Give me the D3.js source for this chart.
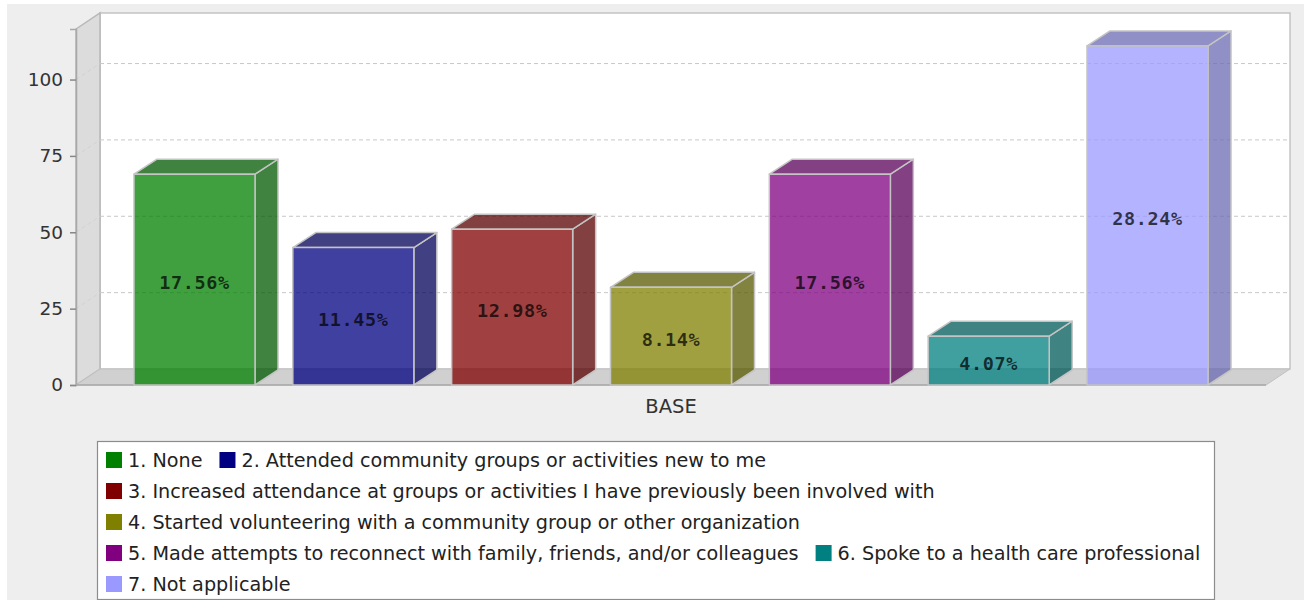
<!DOCTYPE html>
<html>
<head>
<meta charset="utf-8">
<script src="https://cdn.jsdelivr.net/npm/d3@7"></script>
<style>
  body { margin: 0; background: #ffffff; }
  svg { display: block; font-family: "DejaVu Sans", sans-serif; }
</style>
</head>
<body>
<svg id="chart" width="1304" height="600"></svg>
<script>
// ---- data ----
const categories = ["BASE"];
const seriesNames = [
  "1. None",
  "2. Attended community groups or activities new to me",
  "3. Increased attendance at groups or activities I have previously been involved with",
  "4. Started volunteering with a community group or other organization",
  "5. Made attempts to reconnect with family, friends, and/or colleagues",
  "6. Spoke to a health care professional",
  "7. Not applicable"
];
const seriesCounts = [69, 45, 51, 32, 69, 16, 111];
const seriesColors = ["#008000", "#000080", "#800000", "#808000", "#800080", "#008080", "#9999ff"];
const yTicks = [0, 25, 50, 75, 100];

// ---- layout ----
const svg = d3.select("#chart");
const plot = { left: 76, right: 1266, top: 29, bottom: 385 };
const wallDepth = { dx: 24, dy: 16 };
const barDepth = { dx: 23, dy: 15 };
const total = d3.sum(seriesCounts);
const pct = d3.format(".2%");

const y = d3.scaleLinear()
  .domain([0, d3.max(seriesCounts) * 1.05])
  .range([plot.bottom, plot.top]);

const x = d3.scaleBand()
  .domain(d3.range(seriesCounts.length))
  .range([plot.left, plot.right])
  .paddingInner(0.238)
  .paddingOuter(0.365);

// chart background
svg.append("rect").attr("x", 7).attr("y", 4).attr("width", 1304).attr("height", 600).attr("fill", "#eeeeee");

// walls and floor
const bx0 = plot.left + wallDepth.dx, bx1 = plot.right + wallDepth.dx;
const by0 = plot.top - wallDepth.dy, by1 = plot.bottom - wallDepth.dy;

svg.append("rect")
  .attr("x", bx0).attr("y", by0).attr("width", bx1 - bx0).attr("height", by1 - by0)
  .attr("fill", "#ffffff").attr("stroke", "#c4c4c4").attr("stroke-width", 1.5);

svg.append("path")
  .attr("d", `M${plot.left},${plot.top}L${bx0},${by0}L${bx0},${by1}L${plot.left},${plot.bottom}Z`)
  .attr("fill", "#dcdcdc").attr("stroke", "#b8b8b8").attr("stroke-width", 1.5);

svg.append("path")
  .attr("d", `M${plot.left},${plot.bottom}L${bx0},${by1}L${bx1},${by1}L${plot.right},${plot.bottom}Z`)
  .attr("fill", "#d0d0d0").attr("stroke", "#c0c0c0").attr("stroke-width", 1);

// gridlines on the back wall and across the side wall
const grid = svg.append("g").attr("stroke", "#c8c8c8").attr("stroke-width", 1).attr("stroke-dasharray", "4,3");
yTicks.filter(t => t > 0).forEach(t => {
  const yy = y(t);
  grid.append("line").attr("x1", bx0).attr("x2", bx1 - 2).attr("y1", yy - wallDepth.dy).attr("y2", yy - wallDepth.dy);
  grid.append("line").attr("x1", plot.left).attr("x2", bx0).attr("y1", yy).attr("y2", yy - wallDepth.dy)
    .attr("stroke", "#d2d2d2");
});

// front axis line
svg.append("line").attr("x1", plot.left).attr("x2", plot.right).attr("y1", plot.bottom).attr("y2", plot.bottom)
  .attr("stroke", "#a8a8a8").attr("stroke-width", 1.5);

// y axis
const yAxis = svg.append("g")
  .attr("transform", `translate(${plot.left},0)`)
  .call(d3.axisLeft(y).tickValues(yTicks).tickSize(6).tickPadding(7));
yAxis.select(".domain").attr("stroke", "#a8a8a8").attr("stroke-width", 1.5);
yAxis.selectAll(".tick line").attr("stroke", "#888888").attr("stroke-width", 1.5);
yAxis.selectAll(".tick text").attr("fill", "#333333").attr("font-size", 18.5)
  .attr("font-family", "'DejaVu Sans', sans-serif");

// category label
svg.append("text")
  .attr("x", (plot.left + plot.right) / 2).attr("y", 406)
  .attr("text-anchor", "middle").attr("dominant-baseline", "central")
  .attr("font-size", 19.5).attr("fill", "#333333")
  .text(categories[0]);

// 3D bars
const bars = svg.append("g");
seriesCounts.forEach((v, i) => {
  const x0 = x(i), x1 = x(i) + x.bandwidth();
  const yt = y(v), yb = y(0);
  const base = d3.rgb(seriesColors[i]);
  const dark = base.darker(1).formatHex();
  const g = bars.append("g").attr("stroke", "#c4c4c4").attr("stroke-width", 1.5).attr("stroke-linejoin", "round");
  // side face
  g.append("path")
    .attr("d", `M${x1},${yb}L${x1 + barDepth.dx},${yb - barDepth.dy}L${x1 + barDepth.dx},${yt - barDepth.dy}L${x1},${yt}Z`)
    .attr("fill", dark).attr("fill-opacity", 0.75);
  // top face
  g.append("path")
    .attr("d", `M${x0},${yt}L${x0 + barDepth.dx},${yt - barDepth.dy}L${x1 + barDepth.dx},${yt - barDepth.dy}L${x1},${yt}Z`)
    .attr("fill", dark).attr("fill-opacity", 0.75);
  // front face
  g.append("rect")
    .attr("x", x0).attr("y", yt).attr("width", x1 - x0).attr("height", yb - yt)
    .attr("fill", base.formatHex()).attr("fill-opacity", 0.75);
  // value label
  bars.append("text")
    .attr("x", (x0 + x1) / 2).attr("y", (yt + yb) / 2 + 3)
    .attr("text-anchor", "middle").attr("dominant-baseline", "central")
    .attr("font-family", "'DejaVu Sans Mono', monospace").attr("font-weight", "bold")
    .attr("font-size", 18.5).attr("letter-spacing", 0.6)
    .attr("fill", "#000000").attr("fill-opacity", 0.72)
    .text(pct(v / total));
});

// legend
const legendBox = { x: 97, y: 441, w: 1117, h: 158 };
const legend = svg.append("g");
legend.append("rect")
  .attr("x", legendBox.x + 0.5).attr("y", legendBox.y + 0.5)
  .attr("width", legendBox.w).attr("height", legendBox.h)
  .attr("fill", "#ffffff").attr("stroke", "#8c8c8c").attr("stroke-width", 1.2);

const swatch = 16, swatchGap = 6, itemGap = 17, rowH = 31;
const startX = legendBox.x + 9, maxX = legendBox.x + legendBox.w - 4;
let cx = startX, row = 0;
seriesNames.forEach((name, i) => {
  const t = legend.append("text")
    .attr("font-size", 19.2).attr("fill", "#222222")
    .attr("dominant-baseline", "central")
    .text(name);
  const tw = t.node().getComputedTextLength();
  const itemW = swatch + swatchGap + tw;
  if (cx > startX && cx + itemW > maxX) { cx = startX; row += 1; }
  const cy = legendBox.y + 19 + row * rowH;
  legend.append("rect")
    .attr("x", cx).attr("y", cy - swatch / 2).attr("width", swatch).attr("height", swatch)
    .attr("fill", seriesColors[i]);
  t.attr("x", cx + swatch + swatchGap).attr("y", cy);
  cx += itemW + itemGap;
});
</script>
</body>
</html>
